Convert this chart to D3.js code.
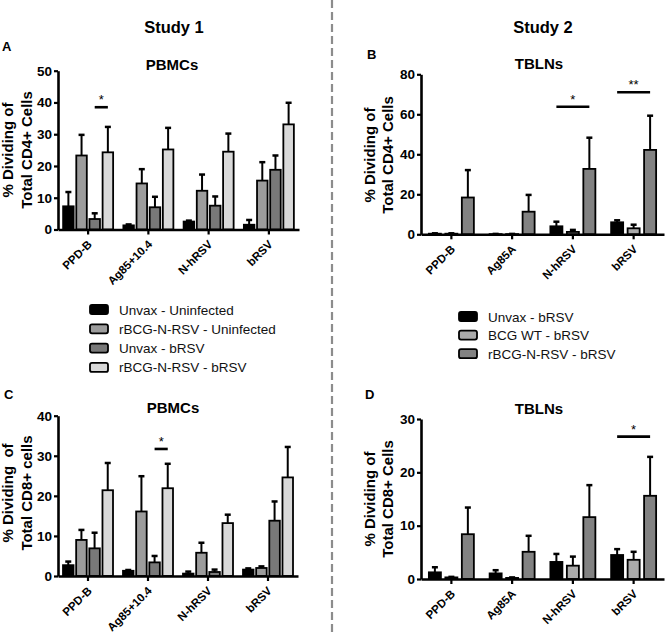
<!DOCTYPE html>
<html>
<head>
<meta charset="utf-8">
<script src="https://cdn.jsdelivr.net/npm/d3@7"></script>
<style>
  html, body { margin: 0; padding: 0; background: #fff; }
  svg { display: block; }
  text { font-family: "Liberation Sans", Arial, Helvetica, sans-serif; }
</style>
</head>
<body>
<svg id="chart" width="665" height="633"></svg>
<script>
// ---------------- DATA ----------------
const study1Series = ["Unvax - Uninfected", "rBCG-N-RSV - Uninfected", "Unvax - bRSV", "rBCG-N-RSV - bRSV"];
const study2Series = ["Unvax - bRSV", "BCG WT - bRSV", "rBCG-N-RSV - bRSV"];
const study1Colors = ["#000000", "#9c9c9c", "#787878", "#d9d9d9"];
const study2Colors = ["#000000", "#ababab", "#828282"];

const study1Categories = ["PPD-B", "Ag85+10.4", "N-hRSV", "bRSV"];
const study2Categories = ["PPD-B", "Ag85A", "N-hRSV", "bRSV"];

// Panel A: PBMCs, % dividing of total CD4+ (mean, SEM) per category x series
const meanA = [[7.3, 23.3, 3.3, 24.3], [1.3, 14.5, 7.0, 25.2], [2.5, 12.2, 7.5, 24.5], [1.5, 15.4, 18.8, 33.1]];
const semA  = [[4.5, 6.5, 1.8, 8.0],  [0.3, 4.5, 3.3, 6.8],   [0.3, 5.1, 2.9, 5.7],  [1.5, 5.8, 4.5, 6.8]];
const ticksA = [0, 10, 20, 30, 40, 50];

// Panel B: TBLNs, % dividing of total CD4+
const meanB = [[0.3, 0.3, 18.4], [0.1, 0.1, 11.3], [4.0, 1.2, 32.7], [6.0, 3.0, 42.2]];
const semB  = [[0.2, 0.2, 13.7], [0.1, 0.1, 8.4],  [2.3, 1.0, 15.6], [1.0, 1.8, 17.1]];
const ticksB = [0, 20, 40, 60, 80];

// Panel C: PBMCs, % dividing of total CD8+
const meanC = [[2.7, 9.0, 6.9, 21.4], [1.3, 16.1, 3.4, 21.9], [0.6, 5.8, 1.0, 13.2], [1.6, 2.0, 13.8, 24.6]];
const semC  = [[0.9, 2.5, 3.9, 6.8],  [0.2, 8.8, 1.6, 6.1],   [0.5, 2.5, 0.6, 2.1],  [0.3, 0.4, 4.8, 7.6]];
const ticksC = [0, 10, 20, 30, 40];

// Panel D: TBLNs, % dividing of total CD8+
const meanD = [[1.25, 0.3, 8.4], [1.05, 0.2, 5.1], [3.2, 2.5, 11.6], [4.5, 3.6, 15.6]];
const semD  = [[0.95, 0.1, 5.0], [0.6, 0.1, 3.0],  [1.5, 1.7, 6.0],  [1.1, 1.5, 7.3]];
const ticksD = [0, 10, 20, 30];

// Significance brackets: [category, fromSeries, toSeries, value, label]
const sigA = [["PPD-B", 2, 3, 38.5, "*"]];
const sigB = [["N-hRSV", 0, 2, 63.8, "*"], ["bRSV", 0, 2, 71.0, "**"]];
const sigC = [["Ag85+10.4", 2, 3, 31.7, "*"]];
const sigD = [["bRSV", 0, 2, 26.7, "*"]];

// ---------------- DRAW ----------------
const svg = d3.select("#chart");
const FONT = '"Liberation Sans", Arial, Helvetica, sans-serif';

// Divider
svg.append("line")
  .attr("x1", 332).attr("x2", 332).attr("y1", 0).attr("y2", 633)
  .attr("stroke", "#8c8c8c").attr("stroke-width", 2.2).attr("stroke-dasharray", "8,4");

// Study titles
svg.append("text").attr("x", 174).attr("y", 33).attr("text-anchor", "middle")
  .attr("font-size", 16.5).attr("font-weight", "bold").text("Study 1");
svg.append("text").attr("x", 543).attr("y", 33).attr("text-anchor", "middle")
  .attr("font-size", 16.5).attr("font-weight", "bold").text("Study 2");

function drawPanel(cfg) {
  const g = svg.append("g");
  const x = d3.scaleBand().domain(cfg.cats).range(cfg.xRange).padding(0);
  const xi = d3.scaleBand().domain(d3.range(cfg.series.length)).range(cfg.inner).paddingInner(cfg.innerPad).paddingOuter(0);
  const y = d3.scaleLinear().domain([0, cfg.yMax]).range([cfg.y0, cfg.yTop]);

  const rows = [];
  cfg.cats.forEach((c, ci) => {
    cfg.series.forEach((s, si) => {
      rows.push({ cat: c, si: si, mean: cfg.mean[ci][si], sem: cfg.sem[ci][si] });
    });
  });
  const cx = d => x(d.cat) + x.bandwidth() / 2 + xi(d.si) + xi.bandwidth() / 2;

  // Bars
  g.selectAll("rect.bar").data(rows).join("rect")
    .attr("class", "bar")
    .attr("x", d => x(d.cat) + x.bandwidth() / 2 + xi(d.si))
    .attr("width", xi.bandwidth())
    .attr("y", d => y(d.mean))
    .attr("height", d => y(0) - y(d.mean))
    .attr("fill", d => cfg.colors[d.si])
    .attr("stroke", "#000").attr("stroke-width", 1.8);

  // Error bars (upper only)
  g.selectAll("line.err").data(rows).join("line")
    .attr("class", "err")
    .attr("x1", cx).attr("x2", cx)
    .attr("y1", d => y(d.mean)).attr("y2", d => y(d.mean + d.sem))
    .attr("stroke", "#000").attr("stroke-width", 2);
  g.selectAll("line.cap").data(rows).join("line")
    .attr("class", "cap")
    .attr("x1", d => cx(d) - 3).attr("x2", d => cx(d) + 3)
    .attr("y1", d => y(d.mean + d.sem)).attr("y2", d => y(d.mean + d.sem))
    .attr("stroke", "#000").attr("stroke-width", 2.5);

  // Y axis
  const ya = g.append("g").attr("transform", `translate(${cfg.xRange[0]},0)`)
    .call(d3.axisLeft(y).tickValues(cfg.ticks).tickFormat(d3.format("d")).tickSize(4).tickSizeOuter(0).tickPadding(2));
  ya.select(".domain").attr("stroke-width", 2.6).attr("stroke", "#000");
  ya.selectAll(".tick line").attr("stroke-width", 2.2).attr("stroke", "#000");
  ya.selectAll(".tick text").attr("font-size", 13.5).attr("font-weight", "bold")
    .attr("font-family", FONT).attr("fill", "#000");

  // X axis
  const xa = g.append("g").attr("transform", `translate(0,${cfg.y0})`)
    .call(d3.axisBottom(x).tickSize(5).tickSizeOuter(0).tickPadding(0));
  xa.select(".domain").attr("stroke-width", 2.6).attr("stroke", "#000");
  xa.selectAll(".tick line").attr("stroke-width", 2.2).attr("stroke", "#000");
  xa.selectAll(".tick text")
    .attr("font-size", 11.5).attr("font-weight", "bold").attr("font-family", FONT).attr("fill", "#000")
    .attr("text-anchor", "end").attr("dy", "0")
    .attr("transform", "translate(1,12) rotate(-45)");

  // Significance
  cfg.sig.forEach(s => {
    const xa0 = x(s[0]) + x.bandwidth() / 2 + xi(s[1]) + xi.bandwidth() / 2;
    const xa1 = x(s[0]) + x.bandwidth() / 2 + xi(s[2]) + xi.bandwidth() / 2;
    g.append("line").attr("x1", xa0).attr("x2", xa1).attr("y1", y(s[3])).attr("y2", y(s[3]))
      .attr("stroke", "#000").attr("stroke-width", 2.6);
    g.append("text").attr("x", (xa0 + xa1) / 2).attr("y", y(s[3]) - 3)
      .attr("text-anchor", "middle").attr("font-size", 13).text(s[4]);
  });

  // Title
  g.append("text").attr("x", cfg.title[1]).attr("y", cfg.title[2]).attr("text-anchor", "middle")
    .attr("font-size", 15).attr("font-weight", "bold").text(cfg.title[0]);
  // Panel letter
  g.append("text").attr("x", cfg.letter[1]).attr("y", cfg.letter[2])
    .attr("font-size", 13).attr("font-weight", "bold").text(cfg.letter[0]);
  // Y title (two lines)
  cfg.ytitle.forEach((t, i) => {
    g.append("text")
      .attr("transform", `translate(${cfg.ytitleX[i]},${cfg.ytitleY}) rotate(-90)`)
      .attr("text-anchor", "middle").attr("font-size", 15).attr("font-weight", "bold")
      .style("white-space", "pre").text(t);
  });
}

drawPanel({
  cats: study1Categories, series: study1Series, colors: study1Colors,
  mean: meanA, sem: semA, ticks: ticksA, yMax: 50, sig: sigA,
  xRange: [58, 299], inner: [-25, 25], innerPad: 0.2, y0: 229.5, yTop: 70.7,
  title: ["PBMCs", 172, 70], letter: ["A", 2, 51],
  ytitle: ["% Dividing of", "Total CD4+ Cells"], ytitleX: [13, 32], ytitleY: 150
});
drawPanel({
  cats: study2Categories, series: study2Series, colors: study2Colors,
  mean: meanB, sem: semB, ticks: ticksB, yMax: 80, sig: sigB,
  xRange: [421, 664], inner: [-22.5, 22.5], innerPad: 0.27, y0: 234.3, yTop: 74.3,
  title: ["TBLNs", 539, 69], letter: ["B", 367, 59],
  ytitle: ["% Dividing of", "Total CD4+ Cells"], ytitleX: [375, 393], ytitleY: 155
});
drawPanel({
  cats: study1Categories, series: study1Series, colors: study1Colors,
  mean: meanC, sem: semC, ticks: ticksC, yMax: 40, sig: sigC,
  xRange: [58, 298], inner: [-25, 25], innerPad: 0.2, y0: 576, yTop: 415.7,
  title: ["PBMCs", 173, 413], letter: ["C", 4, 399],
  ytitle: ["% Dividing  of", "Total CD8+ cells"], ytitleX: [13, 32], ytitleY: 493
});
drawPanel({
  cats: study2Categories, series: study2Series, colors: study2Colors,
  mean: meanD, sem: semD, ticks: ticksD, yMax: 30, sig: sigD,
  xRange: [421, 664], inner: [-22.5, 22.5], innerPad: 0.27, y0: 579, yTop: 419,
  title: ["TBLNs", 539, 414], letter: ["D", 365, 399],
  ytitle: ["% Dividing of", "Total CD8+ Cells"], ytitleX: [375, 393], ytitleY: 499
});

// Legends
function drawLegend(series, colors, x0, y0, step) {
  const lg = svg.append("g");
  series.forEach((s, i) => {
    lg.append("rect").attr("x", x0).attr("y", y0 + i * step).attr("width", 18).attr("height", 9)
      .attr("rx", 2).attr("fill", colors[i]).attr("stroke", "#000").attr("stroke-width", 1.8);
    lg.append("text").attr("x", x0 + 29).attr("y", y0 + i * step + 9.5)
      .attr("font-size", 13.5).attr("fill", "#111").text(s);
  });
}
drawLegend(study1Series, study1Colors, 90, 305, 19.3);
drawLegend(study2Series, study2Colors, 459, 312, 18.6);
</script>
</body>
</html>
